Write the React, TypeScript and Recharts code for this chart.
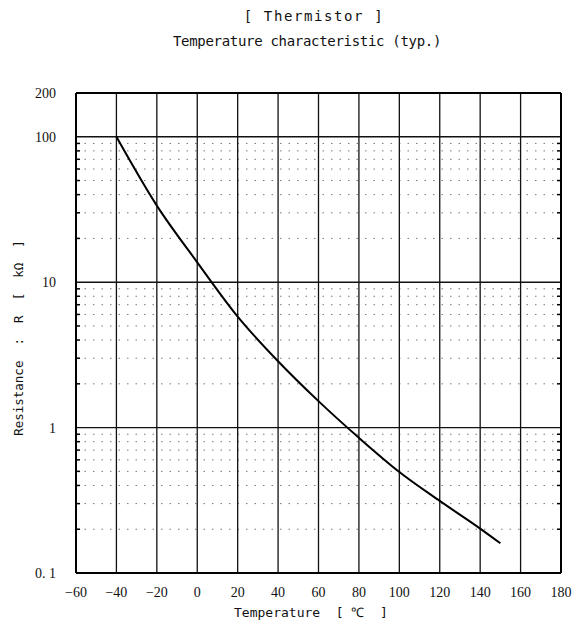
import React from "react";
import { LineChart, Line, XAxis, YAxis, ReferenceLine } from "recharts";

const temps = [-40, -20, 0, 20, 40, 60, 80, 100, 120, 140, 150];
const resistance = [100, 33.6, 13.7, 5.8, 2.86, 1.52, 0.85, 0.495, 0.313, 0.202, 0.16];

const xTicks = [-60, -40, -20, 0, 20, 40, 60, 80, 100, 120, 140, 160, 180];
const yTicks = [0.1, 1, 10, 100, 200];
const majorY = [1, 10, 100];
const majorX = [-40, -20, 0, 20, 40, 60, 80, 100, 120, 140, 160];
const minorY = [0.2, 0.3, 0.4, 0.5, 0.6, 0.7, 0.8, 0.9, 2, 3, 4, 5, 6, 7, 8, 9, 20, 30, 40, 50, 60, 70, 80, 90];

const data = temps.map((t, i) => ({ t, r: resistance[i] }));

const yLabel = (v: number) => (v === 0.1 ? "0. 1" : String(v));
const xLabel = (v: number) => (v < 0 ? "\u2212" + Math.abs(v) : String(v));

const monoFont = "'DejaVu Sans Mono', monospace";
const serifFont = "'Liberation Serif', serif";

export default function App() {
  return (
    <div style={{ position: "absolute", left: 0, top: 0, width: 572, height: 627, background: "#fff" }}>
      <div style={{ position: "absolute", left: 0, width: 628, top: 8, textAlign: "center", fontFamily: monoFont, fontSize: 14, color: "#111", letterSpacing: 1.6 }}>
        [ Thermistor ]
      </div>
      <div style={{ position: "absolute", left: 0, width: 614, top: 33, textAlign: "center", fontFamily: monoFont, fontSize: 14, color: "#111", letterSpacing: -0.3 }}>
        Temperature characteristic  (typ.)
      </div>
      <div style={{ position: "absolute", left: 0, width: 622, top: 603, textAlign: "center", fontFamily: monoFont, fontSize: 13, color: "#111", whiteSpace: "pre" }}>
        {"Temperature  [ \u2103  ]"}
      </div>
      <div style={{ position: "absolute", left: 18, top: 338, width: 0, height: 0 }}>
        <div style={{ position: "absolute", transform: "translate(-50%, -50%) rotate(-90deg)", whiteSpace: "pre", fontFamily: monoFont, fontSize: 12.5, color: "#111" }}>
          {"Resistance  :  R  [  k\u03a9  ]"}
        </div>
      </div>
      <LineChart width={572} height={627} data={data} margin={{ top: 93, right: 11, left: 0, bottom: 24 }}>
        {minorY.map((v) => (
          <ReferenceLine key={"m" + v} y={v} stroke="#777" strokeWidth={1} strokeDasharray="1.5 7" />
        ))}
        {minorY.map((v) => (
          <ReferenceLine key={"tl" + v} segment={[{ x: -60, y: v }, { x: -58, y: v }]} stroke="#000" strokeWidth={1.5} />
        ))}
        {minorY.map((v) => (
          <ReferenceLine key={"tr" + v} segment={[{ x: 178, y: v }, { x: 180, y: v }]} stroke="#000" strokeWidth={1.5} />
        ))}
        {majorX.map((v) => (
          <ReferenceLine key={"x" + v} x={v} stroke="#111" strokeWidth={1.3} />
        ))}
        {majorY.map((v) => (
          <ReferenceLine key={"y" + v} y={v} stroke="#111" strokeWidth={1.4} />
        ))}
        <ReferenceLine y={200} stroke="#000" strokeWidth={2} />
        <ReferenceLine x={180} stroke="#000" strokeWidth={2} />
        <XAxis
          dataKey="t"
          type="number"
          domain={[-60, 180]}
          ticks={xTicks}
          tickFormatter={xLabel}
          tickLine={false}
          axisLine={{ stroke: "#000", strokeWidth: 2 }}
          tick={{ fill: "#111", fontFamily: serifFont, fontSize: 14 }}
          tickMargin={8}
          height={30}
          allowDataOverflow
        />
        <YAxis
          dataKey="r"
          scale="log"
          domain={[0.1, 200]}
          ticks={yTicks}
          tickFormatter={yLabel}
          tickLine={false}
          axisLine={{ stroke: "#000", strokeWidth: 2 }}
          tick={{ fill: "#111", fontFamily: serifFont, fontSize: 14 }}
          tickMargin={14}
          width={76}
          allowDataOverflow
          interval={0}
        />
        <Line type="monotone" dataKey="r" stroke="#000" strokeWidth={2} dot={false} isAnimationActive={false} />
      </LineChart>
    </div>
  );
}
